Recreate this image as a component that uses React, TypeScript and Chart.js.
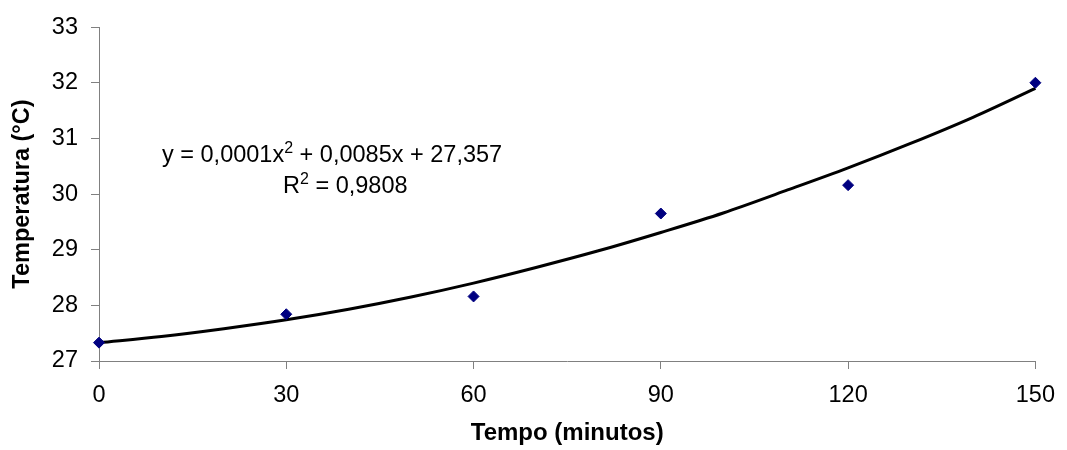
import React, { useEffect, useRef } from "react";
import { Chart, registerables } from "chart.js";

Chart.register(...registerables);

const timeMinutes = [0, 30, 60, 90, 120, 150];
const temperature = [27.33, 27.84, 28.16, 29.65, 30.16, 32.0];

const trendX = [0, 10, 20, 30, 40, 50, 60, 70, 80, 90, 100, 110, 120, 130, 140, 150];
const trendY = [27.33, 27.44, 27.58, 27.74, 27.93, 28.15, 28.4, 28.68, 28.98, 29.31, 29.66, 30.06, 30.47, 30.91, 31.38, 31.9];

const xTitle = "Tempo (minutos)";
const yTitle = "Temperatura (°C)";
const eqLine1 = ["y = 0,0001x", "2", " + 0,0085x + 27,357"];
const eqLine2 = ["R", "2", " = 0,9808"];

const FONT = '"Liberation Sans", Arial, sans-serif';

const equationPlugin = {
  id: "equation",
  afterDraw(chart: any) {
    const ctx = chart.ctx as CanvasRenderingContext2D;
    ctx.save();
    ctx.fillStyle = "#000";
    ctx.textBaseline = "alphabetic";
    ctx.textAlign = "left";
    const drawLine = (parts: string[], x: number, y: number) => {
      let cx = x;
      parts.forEach((p, i) => {
        const sup = i === 1;
        ctx.font = (sup ? "16px " : "23.5px ") + FONT;
        ctx.fillText(p, cx, sup ? y - 9 : y);
        cx += ctx.measureText(p).width;
      });
    };
    drawLine(eqLine1, 162, 162);
    drawLine(eqLine2, 283, 193);
    ctx.restore();
  },
};

export default function App() {
  const ref = useRef<HTMLCanvasElement | null>(null);
  useEffect(() => {
    if (!ref.current) return;
    const chart = new Chart(ref.current, {
      type: "scatter",
      data: {
        datasets: [
          {
            label: "trend",
            type: "line",
            data: trendX.map((x, i) => ({ x, y: trendY[i] })),
            borderColor: "#000000",
            borderWidth: 3,
            pointRadius: 0,
            tension: 0.4,
            cubicInterpolationMode: "monotone",
            fill: false,
            clip: false as any,
            order: 2,
          },
          {
            label: "data",
            data: timeMinutes.map((x, i) => ({ x, y: temperature[i] })),
            pointStyle: "rectRot",
            pointRadius: 5.5,
            backgroundColor: "#000080",
            borderColor: "#000080",
            borderWidth: 1,
            clip: false as any,
            order: 1,
          },
        ],
      },
      options: {
        animation: false,
        responsive: false,
        layout: { padding: { left: 0, top: 25, right: 26, bottom: 0 } },
        plugins: { legend: { display: false }, tooltip: { enabled: false } },
        scales: {
          x: {
            type: "linear",
            min: 0,
            max: 150,
            ticks: { stepSize: 30, color: "#000", font: { family: FONT, size: 23.5 }, padding: 12 },
            grid: { drawOnChartArea: false, drawTicks: true, tickLength: 8, color: "#808080" },
            border: { color: "#808080", width: 1 },
            title: {
              display: true,
              text: xTitle,
              color: "#000",
              font: { family: FONT, size: 24, weight: "bold" },
              padding: { top: 0, bottom: 2 },
            },
            afterFit: (s: any) => { s.height = 89; },
          },
          y: {
            type: "linear",
            min: 27,
            max: 33,
            ticks: { stepSize: 1, color: "#000", font: { family: FONT, size: 23.5 }, padding: 13 },
            grid: { drawOnChartArea: false, drawTicks: true, tickLength: 8, color: "#808080" },
            border: { color: "#808080", width: 1 },
            title: {
              display: true,
              text: yTitle,
              color: "#000",
              font: { family: FONT, size: 23.5, weight: "bold" },
              padding: { top: 8, bottom: 0 },
            },
            afterFit: (s: any) => { s.width = 99; },
          },
        },
      },
      plugins: [equationPlugin],
    });
    return () => chart.destroy();
  }, []);
  return (
    <div style={{ position: "absolute", left: 0, top: 0, width: 1067, height: 450, background: "#fff" }}>
      <canvas ref={ref} width={1067} height={450} />
    </div>
  );
}
